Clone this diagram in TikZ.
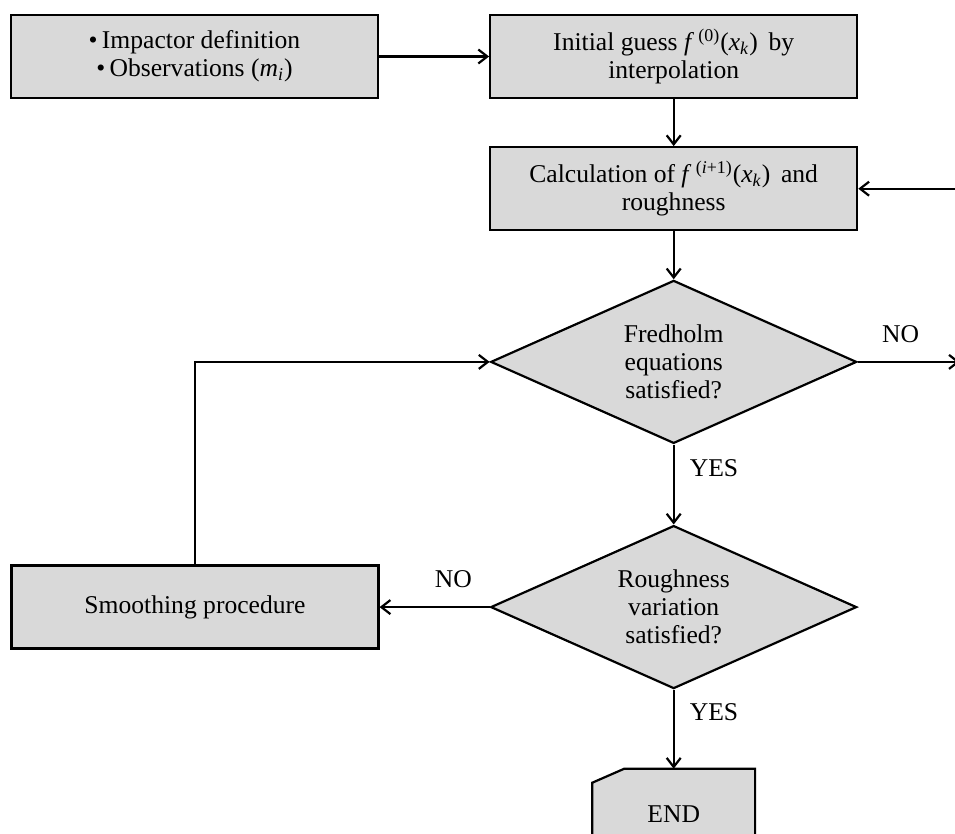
\documentclass[tikz,border=0pt]{standalone}
\usepackage{fontspec}
\setmainfont{Liberation Serif}
\usetikzlibrary{positioning,arrows.meta,calc,shapes.geometric,backgrounds}

\begin{document}
\begin{tikzpicture}[
  x=0.5pt,y=-0.5pt,
  every node/.style={font=\fontsize{12.8}{14}\selectfont},
  block/.style={draw,line width=1.1pt,fill=black!15,minimum width=183.5pt,
                minimum height=41.5pt,align=center,inner sep=2pt},
  decision/.style={diamond,aspect=2.25,draw,line width=1.1pt,fill=black!15,
                   minimum width=183pt,minimum height=81.5pt,align=center,inner sep=0pt},
  endbox/.style={minimum width=81pt,minimum height=45pt,inner sep=0pt},
  arr/.style={-{Straight Barb[length=4.5pt,width=7pt]},line width=1.1pt},
  lbl/.style={inner sep=2pt}
]
  \useasboundingbox (0,0) rectangle (955,834);
  \clip (0,0) rectangle (955,834);

  \node[block] (input) at (194.5,56.5)
    {\textbullet\,Impactor definition\\\textbullet\,Observations (\textit{m}\textsubscript{\textit{i}})};
  \node[block,right=55pt of input] (guess)
    {Initial guess \textit{f}\,\textsuperscript{(0)}(\textit{x}\textsubscript{\textit{k}})\, by\\interpolation};
  \node[block,below=23.5pt of guess] (calc)
    {Calculation of \textit{f}\,\textsuperscript{(\textit{i}+1)}(\textit{x}\textsubscript{\textit{k}})\, and\\roughness};
  \node[decision,below=24pt of calc] (fred) {Fredholm\\equations\\satisfied?};
  \node[decision,below=40pt of fred] (rough) {Roughness\\variation\\satisfied?};
  \node[block,left=55pt of rough] (smooth) {Smoothing procedure};
  \node[endbox,below=39.5pt of rough] (end) {END};

  \coordinate[right=51pt of fred.east] (noout);
  \coordinate (loopin) at (calc.east -| noout);

  \draw[arr] (input) -- (guess);
  \draw[arr] (guess) -- (calc);
  \draw[arr] (calc) -- (fred);
  \draw[arr] (fred) -- node[lbl,right=5.5pt,pos=0.29]{YES} (rough);
  \draw[arr] (rough) -- node[lbl,right=5.5pt,pos=0.28]{YES} (end.north);
  \draw[arr] (rough) -- node[lbl,above=7pt,pos=0.33]{NO} (smooth);
  \draw[arr] (smooth.north) |- (fred.west);
  \draw[arr] (fred.east) -- node[lbl,above=7pt,pos=0.42]{NO} (noout);
  \draw[arr] (loopin) -- (calc.east);

  % end terminal
  \begin{scope}[on background layer]
    \clip (0,0) rectangle (955,834);
    \filldraw[line width=1.1pt,fill=black!15]
      (end.south west) -- ($(end.north west)+(0,-7pt)$)
      -- ($(end.north west)+(16pt,0)$) -- (end.north east)
      -- (end.south east) -- cycle;
  \end{scope}
\end{tikzpicture}
\end{document}
